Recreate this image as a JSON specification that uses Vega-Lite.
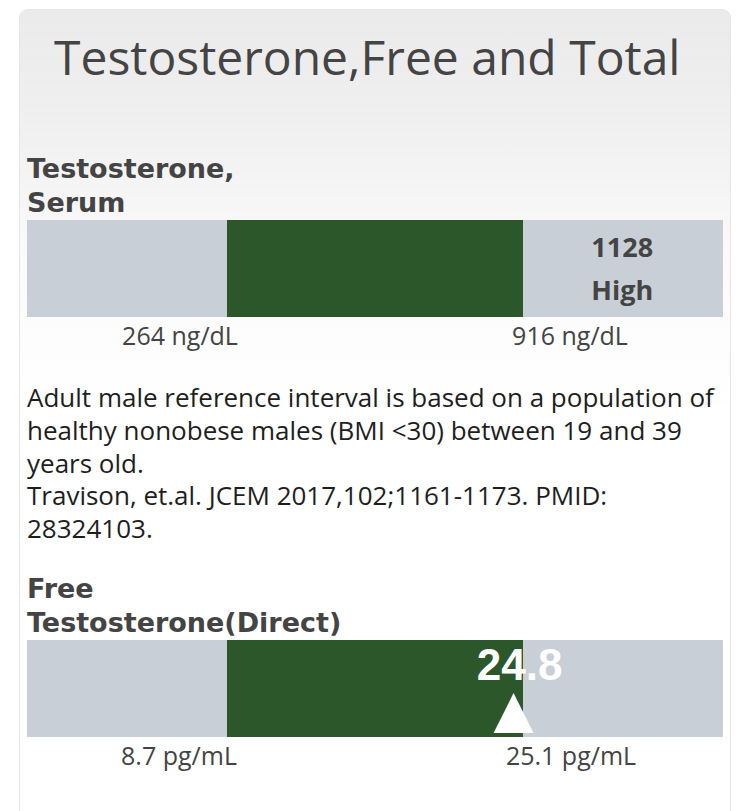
{
  "$schema": "https://vega.github.io/schema/vega-lite/v6.json",
  "width": 696,
  "height": 794,
  "autosize": "none",
  "padding": {"left": 27, "top": 17, "right": 27, "bottom": 0},
  "background": "#ffffff",
  "config": {"view": {"stroke": null}},
  "title": {
    "text": "Testosterone,Free and Total",
    "anchor": "start",
    "frame": "group",
    "font": "Open Sans",
    "fontSize": 48,
    "fontWeight": 400,
    "color": "#444444",
    "baseline": "alphabetic",
    "dx": 27,
    "offset": -113.5
  },
  "datasets": {
    "card": [{"panel": "Testosterone,Free and Total"}],
    "tests": [
      {"test": "Testosterone, Serum", "header": ["Testosterone,", "Serum"], "low": 264, "high": 916, "unit": "ng/dL", "result": 1128, "flag": "High", "low_label": "264 ng/dL", "high_label": "916 ng/dL"},
      {"test": "Free Testosterone(Direct)", "header": ["Free", "Testosterone(Direct)"], "low": 8.7, "high": 25.1, "unit": "pg/mL", "result": 24.8, "flag": "", "low_label": "8.7 pg/mL", "high_label": "25.1 pg/mL"}
    ],
    "note": [
      {"line": 1, "text": "Adult male reference interval is based on a population of"},
      {"line": 2, "text": "healthy nonobese males (BMI <30) between 19 and 39"},
      {"line": 3, "text": "years old."},
      {"line": 4, "text": "Travison, et.al. JCEM 2017,102;1161-1173. PMID:"},
      {"line": 5, "text": "28324103."}
    ]
  },
  "resolve": {"scale": {"x": "independent", "y": "independent"}},
  "layer": [
    {
      "data": {"name": "card"},
      "mark": {"type": "rect", "cornerRadius": 1, "fill": "#e6e6e6", "stroke": "#e6e6e6", "strokeWidth": 16},
      "encoding": {}
    },
    {
      "data": {"name": "card"},
      "mark": {
        "type": "rect",
        "cornerRadius": 1,
        "strokeWidth": 14,
        "fill": {
          "gradient": "linear",
          "x1": 0, "y1": 0, "x2": 0, "y2": 1,
          "stops": [
            {"offset": 0, "color": "#ebebeb"},
            {"offset": 0.12, "color": "#efefef"},
            {"offset": 0.3, "color": "#fafafa"},
            {"offset": 0.5, "color": "#ffffff"},
            {"offset": 1, "color": "#ffffff"}
          ]
        },
        "stroke": {
          "gradient": "linear",
          "x1": 0, "y1": 0, "x2": 0, "y2": 1,
          "stops": [
            {"offset": 0, "color": "#ebebeb"},
            {"offset": 0.12, "color": "#efefef"},
            {"offset": 0.3, "color": "#fafafa"},
            {"offset": 0.5, "color": "#ffffff"},
            {"offset": 1, "color": "#ffffff"}
          ]
        }
      },
      "encoding": {}
    },
    {
      "data": {"name": "tests"},
      "mark": {"type": "rect", "fill": "#c9cfd6"},
      "encoding": {
        "y": {"field": "test", "type": "nominal", "axis": null,
              "scale": {"type": "band", "domain": ["Testosterone, Serum", "Free Testosterone(Direct)"], "range": [203, 720], "paddingInner": 0.769, "paddingOuter": 0}}
      }
    },
    {
      "data": {"name": "tests"},
      "mark": {"type": "text", "x": 0, "align": "left", "baseline": "alphabetic", "dy": -90.5, "lineHeight": 34,
               "font": "DejaVu Sans", "fontWeight": "bold", "fontSize": 27, "color": "#444444"},
      "encoding": {
        "y": {"field": "test", "type": "nominal", "axis": null,
              "scale": {"type": "band", "domain": ["Testosterone, Serum", "Free Testosterone(Direct)"], "range": [203, 720], "paddingInner": 0.769, "paddingOuter": 0}},
        "text": {"field": "header"}
      }
    },
    {
      "data": {"name": "tests"},
      "transform": [{"filter": "datum.test === 'Testosterone, Serum'"}],
      "encoding": {
        "y": {"field": "test", "type": "nominal", "axis": null,
              "scale": {"type": "band", "domain": ["Testosterone, Serum", "Free Testosterone(Direct)"], "range": [203, 720], "paddingInner": 0.769, "paddingOuter": 0}}
      },
      "layer": [
        {
          "mark": {"type": "rect", "fill": "#2c572a"},
          "encoding": {
            "x": {"field": "low", "type": "quantitative", "axis": null, "scale": {"domain": [264, 916], "range": [200, 496], "zero": false, "nice": false}},
            "x2": {"field": "high"}
          }
        },
        {
          "mark": {"type": "text", "align": "center", "baseline": "alphabetic", "dx": 3, "dy": -11.5, "font": "Open Sans", "fontWeight": "bold", "fontSize": 27, "color": "#444444"},
          "encoding": {
            "x": {"field": "result", "type": "quantitative", "axis": null, "scale": {"domain": [264, 916], "range": [200, 496], "zero": false, "nice": false}},
            "text": {"field": "result", "type": "quantitative"}
          }
        },
        {
          "mark": {"type": "text", "align": "center", "baseline": "alphabetic", "dx": 3, "dy": 31.5, "font": "Open Sans", "fontWeight": "bold", "fontSize": 27, "color": "#444444"},
          "encoding": {
            "x": {"field": "result", "type": "quantitative", "axis": null, "scale": {"domain": [264, 916], "range": [200, 496], "zero": false, "nice": false}},
            "text": {"field": "flag"}
          }
        },
        {
          "mark": {"type": "text", "align": "center", "baseline": "alphabetic", "dx": -47, "dy": 76.5, "font": "Open Sans", "fontSize": 25, "color": "#444444"},
          "encoding": {
            "x": {"field": "low", "type": "quantitative", "axis": null, "scale": {"domain": [264, 916], "range": [200, 496], "zero": false, "nice": false}},
            "text": {"field": "low_label"}
          }
        },
        {
          "mark": {"type": "text", "align": "center", "baseline": "alphabetic", "dx": 47, "dy": 76.5, "font": "Open Sans", "fontSize": 25, "color": "#444444"},
          "encoding": {
            "x": {"field": "high", "type": "quantitative", "axis": null, "scale": {"domain": [264, 916], "range": [200, 496], "zero": false, "nice": false}},
            "text": {"field": "high_label"}
          }
        }
      ]
    },
    {
      "data": {"name": "tests"},
      "transform": [{"filter": "datum.test === 'Free Testosterone(Direct)'"}],
      "encoding": {
        "y": {"field": "test", "type": "nominal", "axis": null,
              "scale": {"type": "band", "domain": ["Testosterone, Serum", "Free Testosterone(Direct)"], "range": [203, 720], "paddingInner": 0.769, "paddingOuter": 0}}
      },
      "layer": [
        {
          "mark": {"type": "rect", "fill": "#2c572a"},
          "encoding": {
            "x": {"field": "low", "type": "quantitative", "axis": null, "scale": {"domain": [8.7, 25.1], "range": [200, 496], "zero": false, "nice": false}},
            "x2": {"field": "high"}
          }
        },
        {
          "mark": {"type": "point", "shape": "M0,-1L1,1L-1,1Z", "size": 1600, "filled": true, "fill": "#ffffff", "opacity": 1, "strokeWidth": 0, "xOffset": -4, "yOffset": 24.5},
          "encoding": {
            "x": {"field": "result", "type": "quantitative", "axis": null, "scale": {"domain": [8.7, 25.1], "range": [200, 496], "zero": false, "nice": false}}
          }
        },
        {
          "mark": {"type": "text", "align": "center", "baseline": "alphabetic", "dx": 2, "dy": -8.5, "font": "Liberation Sans", "fontWeight": "bold", "fontSize": 44, "color": "#ffffff"},
          "encoding": {
            "x": {"field": "result", "type": "quantitative", "axis": null, "scale": {"domain": [8.7, 25.1], "range": [200, 496], "zero": false, "nice": false}},
            "text": {"field": "result", "type": "quantitative", "format": ".1f"}
          }
        },
        {
          "mark": {"type": "text", "align": "center", "baseline": "alphabetic", "dx": -48, "dy": 76.5, "font": "Open Sans", "fontSize": 25, "color": "#444444"},
          "encoding": {
            "x": {"field": "low", "type": "quantitative", "axis": null, "scale": {"domain": [8.7, 25.1], "range": [200, 496], "zero": false, "nice": false}},
            "text": {"field": "low_label"}
          }
        },
        {
          "mark": {"type": "text", "align": "center", "baseline": "alphabetic", "dx": 48, "dy": 76.5, "font": "Open Sans", "fontSize": 25, "color": "#444444"},
          "encoding": {
            "x": {"field": "high", "type": "quantitative", "axis": null, "scale": {"domain": [8.7, 25.1], "range": [200, 496], "zero": false, "nice": false}},
            "text": {"field": "high_label"}
          }
        }
      ]
    },
    {
      "data": {"name": "note"},
      "mark": {"type": "text", "x": 0, "align": "left", "baseline": "alphabetic", "font": "Open Sans", "fontSize": 26, "color": "#1e1e1e"},
      "encoding": {
        "y": {"field": "line", "type": "ordinal", "axis": null, "scale": {"type": "point", "range": [390, 521], "padding": 0}},
        "text": {"field": "text"}
      }
    }
  ]
}
